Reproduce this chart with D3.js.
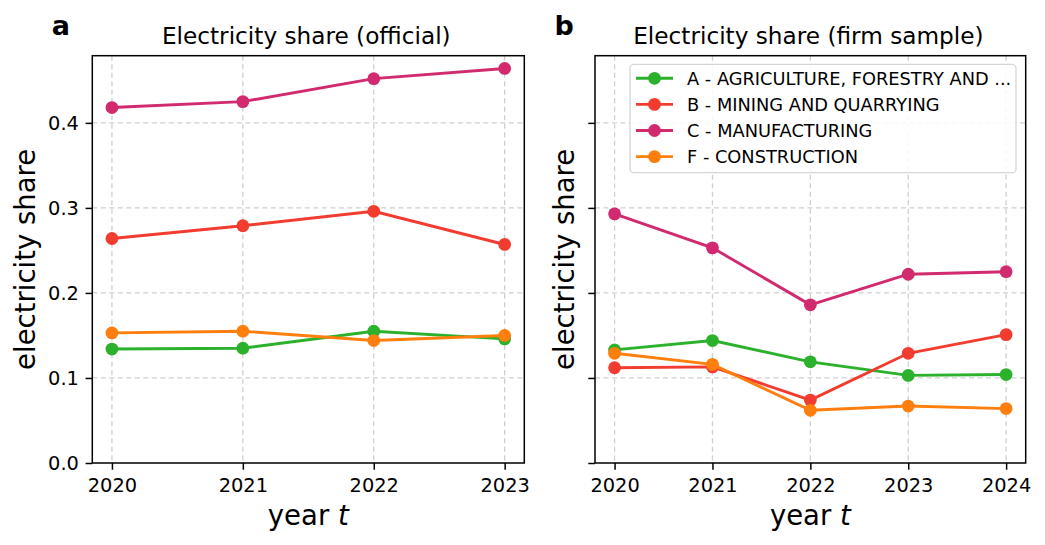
<!DOCTYPE html>
<html>
<head>
<meta charset="utf-8">
<script src="https://cdn.jsdelivr.net/npm/d3@7"></script>
<style>
  body { margin: 0; background: #fff; }
  svg { font-family: "DejaVu Sans", sans-serif; }
</style>
</head>
<body>
<div id="chart"></div>
<script>
// series names and colours
const sectors = ["A - AGRICULTURE, FORESTRY AND ...", "B - MINING AND QUARRYING", "C - MANUFACTURING", "F - CONSTRUCTION"];
const colors = ["#2cb12c", "#f23c30", "#d12a6f", "#ff7f0e"];

// panel a: official statistics
const yearsOfficial = [2020, 2021, 2022, 2023];
const officialA = [0.134, 0.135, 0.155, 0.146];
const officialB = [0.264, 0.279, 0.296, 0.257];
const officialC = [0.418, 0.425, 0.452, 0.464];
const officialF = [0.153, 0.155, 0.144, 0.150];

// panel b: firm sample
const yearsFirm = [2020, 2021, 2022, 2023, 2024];
const firmA = [0.133, 0.144, 0.119, 0.103, 0.104];
const firmB = [0.112, 0.113, 0.074, 0.129, 0.151];
const firmC = [0.293, 0.253, 0.186, 0.222, 0.225];
const firmF = [0.129, 0.116, 0.062, 0.067, 0.064];

const yTicks = [0.0, 0.1, 0.2, 0.3, 0.4];

const width = 1045, height = 545;
const svg = d3.select("#chart").append("svg")
  .attr("width", width).attr("height", height);

const plotTop = 55.7, plotBottom = 463;
const y = d3.scaleLinear().domain([0, 0.479]).range([plotBottom, plotTop]);

const panels = [
  { letter: "a", title: "Electricity share (official)", years: yearsOfficial,
    series: [officialA, officialB, officialC, officialF], left: 92.3, right: 524.3, labels: true, legend: false },
  { letter: "b", title: "Electricity share (firm sample)", years: yearsFirm,
    series: [firmA, firmB, firmC, firmF], left: 595, right: 1025.7, labels: false, legend: true }
];

panels.forEach(p => {
  const span = p.years[p.years.length - 1] - p.years[0];
  const x = d3.scaleLinear()
    .domain([p.years[0] - span * 0.05, p.years[p.years.length - 1] + span * 0.05])
    .range([p.left, p.right]);
  const g = svg.append("g");

  // dashed grid
  g.append("g").selectAll("line").data(p.years).join("line")
    .attr("x1", d => x(d)).attr("x2", d => x(d))
    .attr("y1", plotTop).attr("y2", plotBottom)
    .attr("stroke", "#cfcfcf").attr("stroke-width", 1.3).attr("stroke-dasharray", "5 3.5");
  g.append("g").selectAll("line").data(yTicks.slice(1)).join("line")
    .attr("x1", p.left).attr("x2", p.right)
    .attr("y1", d => y(d)).attr("y2", d => y(d))
    .attr("stroke", "#cfcfcf").attr("stroke-width", 1.3).attr("stroke-dasharray", "5 3.5");

  // axes
  const xAxis = g.append("g").attr("transform", `translate(0,${plotBottom})`)
    .call(d3.axisBottom(x).tickValues(p.years).tickFormat(d3.format("d")).tickSize(6.7).tickPadding(9).tickSizeOuter(0));
  const yAxis = g.append("g").attr("transform", `translate(${p.left},0)`)
    .call(d3.axisLeft(y).tickValues(yTicks).tickFormat(p.labels ? d3.format(".1f") : () => "").tickSize(6.7).tickPadding(6.7).tickSizeOuter(0));
  [xAxis, yAxis].forEach(a => {
    a.select(".domain").remove();
    a.selectAll("line").attr("stroke", "#000").attr("stroke-width", 1.5);
    a.selectAll("text").attr("font-size", 19.4).attr("fill", "#000").attr("font-family", "DejaVu Sans");
  });

  // frame
  g.append("rect").attr("x", p.left).attr("y", plotTop)
    .attr("width", p.right - p.left).attr("height", plotBottom - plotTop)
    .attr("fill", "none").attr("stroke", "#000").attr("stroke-width", 1.5);

  // lines and markers
  const line = d3.line().x((d, i) => x(p.years[i])).y(d => y(d));
  p.series.forEach((vals, k) => {
    g.append("path").datum(vals).attr("d", line)
      .attr("fill", "none").attr("stroke", colors[k]).attr("stroke-width", 2.9);
    g.append("g").selectAll("circle").data(vals).join("circle")
      .attr("cx", (d, i) => x(p.years[i])).attr("cy", d => y(d)).attr("r", 6.4)
      .attr("fill", colors[k]);
  });

  // titles and labels
  const cx = (p.left + p.right) / 2;
  svg.append("text").attr("x", cx - 2).attr("y", 43.5).attr("text-anchor", "middle")
    .attr("font-size", 23.2).text(p.title);
  svg.append("text").attr("x", p.left - 40.5).attr("y", 35).attr("font-size", 27)
    .attr("font-weight", "bold").text(p.letter);
  const xl = svg.append("text").attr("x", cx).attr("y", 524.5).attr("text-anchor", "middle")
    .attr("font-size", 27.5);
  xl.append("tspan").text("year ");
  xl.append("tspan").attr("font-style", "italic").text("t");
  const ylx = p.labels ? 35 : 573.5;
  svg.append("text").attr("transform", `translate(${ylx},${(plotTop + plotBottom) / 2}) rotate(-90)`)
    .attr("text-anchor", "middle").attr("font-size", 27.5).text("electricity share");

  if (p.legend) {
    const lg = svg.append("g");
    lg.append("rect").attr("x", 630).attr("y", 64.3).attr("width", 386).attr("height", 108.4)
      .attr("rx", 4).attr("fill", "#fff").attr("fill-opacity", 0.85)
      .attr("stroke", "#d6d6d6").attr("stroke-width", 1.3);
    sectors.forEach((s, k) => {
      const ly = 78.3 + k * 26.1;
      lg.append("line").attr("x1", 636).attr("x2", 673).attr("y1", ly).attr("y2", ly)
        .attr("stroke", colors[k]).attr("stroke-width", 2.9);
      lg.append("circle").attr("cx", 654.5).attr("cy", ly).attr("r", 6.4).attr("fill", colors[k]);
      lg.append("text").attr("x", 687).attr("y", ly).attr("dy", "0.36em")
        .attr("font-size", 17.8).text(s);
    });
  }
});
</script>
</body>
</html>
